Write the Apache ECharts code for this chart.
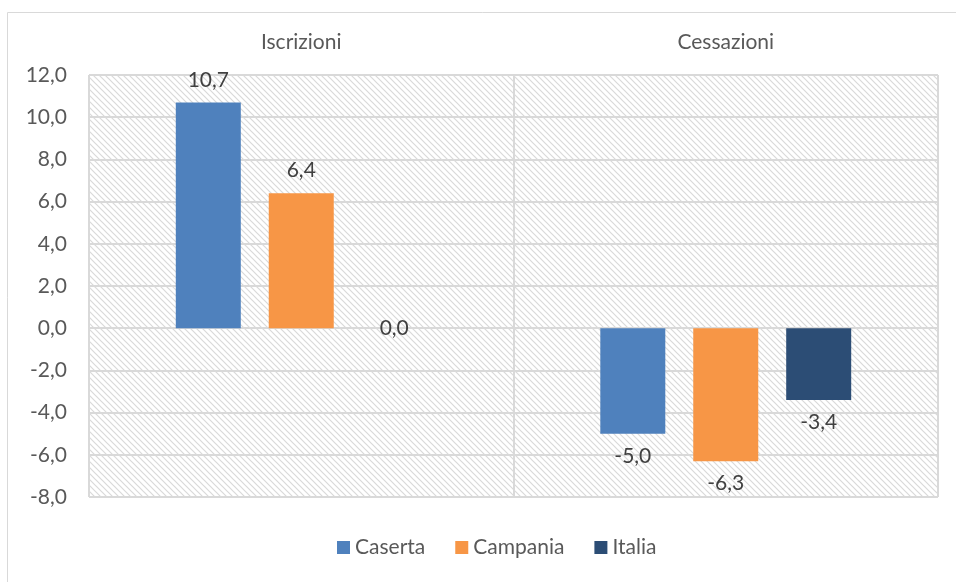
<!DOCTYPE html>
<html><head><meta charset="utf-8">
<script src="https://cdn.jsdelivr.net/npm/echarts@6/dist/echarts.min.js"></script>
<style>html,body{margin:0;padding:0;background:#fff}#c{width:956px;height:582px}</style>
</head><body><div id="c"></div>
<script>
const categories = ['Iscrizioni', 'Cessazioni'];
const caserta = [10.7, -5.0];
const campania = [6.4, -6.3];
const italia = [0.0, -3.4];
const seriesNames = ['Caserta', 'Campania', 'Italia'];
const colors = ['#4F81BD', '#F79646', '#2C4D75'];

const pc = document.createElement('canvas');
pc.width = 6; pc.height = 6;
const g = pc.getContext('2d');
g.fillStyle = '#ffffff'; g.fillRect(0,0,6,6);
g.strokeStyle = '#d9d9d9'; g.lineWidth = 1.2;
g.beginPath();
g.moveTo(-1,-1); g.lineTo(7,7);
g.moveTo(-1,5); g.lineTo(1,7);
g.moveTo(5,-1); g.lineTo(7,1);
g.stroke();

const fmt = v => v.toFixed(1).replace('.', ',');
const font = 'Lato, "Open Sans", sans-serif';
const FS = 21;
const chart = echarts.init(document.getElementById('c'));
const mk = (name, data, i) => ({
  name, type: 'bar', barWidth: 65, barGap: '43%',
  itemStyle: { color: colors[i] },
  label: {
    show: true, color: '#404040', fontSize: FS, fontFamily: font,
    formatter: p => fmt(p.value), distance: 12
  },
  data: data.map(v => ({ value: v, label: { position: v === 0 ? 'inside' : (v < 0 ? 'bottom' : 'top') } }))
});
const s = seriesNames.map((n, i) => mk(n, [caserta, campania, italia][i], i));
chart.setOption({
  animation: false,
  textStyle: { fontFamily: font },
  graphic: [{ type: 'rect', shape: { x: 7.5, y: 12.5, width: 1000, height: 1000 }, style: { fill: 'none', stroke: '#d9d9d9', lineWidth: 1 }, z: -10 }],
  grid: { left: 89, right: 18, top: 75, bottom: 85, show: true, borderColor: '#d9d9d9', borderWidth: 1,
          backgroundColor: { image: pc, repeat: 'repeat' } },
  legend: { bottom: 19, left: 332, itemWidth: 13, itemHeight: 13, itemGap: 30, itemTextGap: 7, icon: 'rect',
            textStyle: { fontSize: FS, color: '#595959', fontFamily: font }, data: seriesNames },
  xAxis: { type: 'category', data: categories, position: 'top',
           axisLine: { show: false }, axisTick: { show: false },
           axisLabel: { color: '#595959', fontSize: FS, margin: 22, fontFamily: font },
           splitLine: { show: true, lineStyle: { color: '#d9d9d9', width: 2 } } },
  yAxis: { type: 'value', min: -8, max: 12, interval: 2,
           axisLine: { show: false }, axisTick: { show: false },
           axisLabel: { color: '#595959', fontSize: FS, margin: 22, fontFamily: font, formatter: fmt },
           splitLine: { lineStyle: { color: '#d9d9d9', width: 2 } } },
  series: s
});
</script></body></html>
